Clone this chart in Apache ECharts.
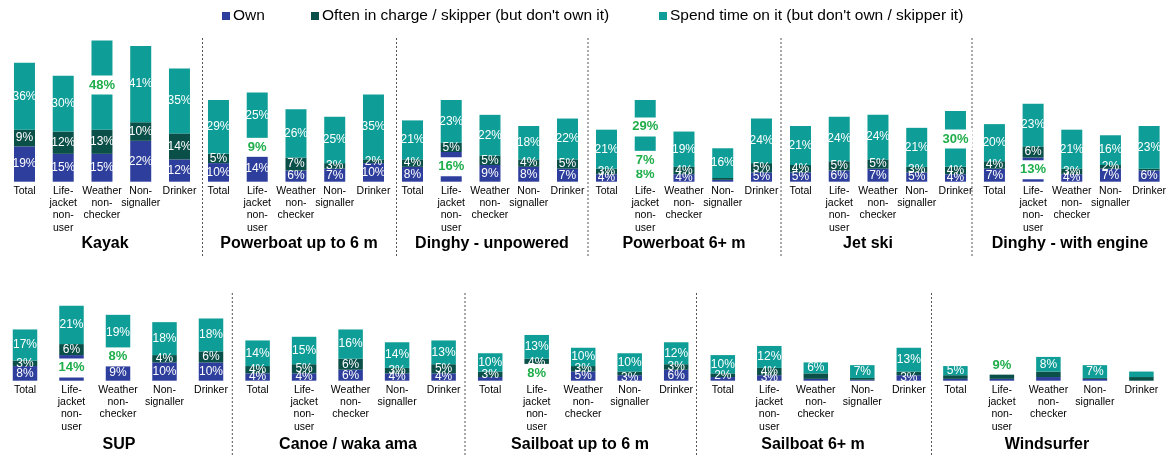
<!DOCTYPE html>
<html>
<head>
<meta charset="utf-8">
<script src="https://cdn.jsdelivr.net/npm/echarts@6/dist/echarts.min.js"></script>
<style>
  html, body { margin: 0; padding: 0; background: #fff; }
  #chart { width: 1169px; height: 457px; }
</style>
</head>
<body>
<div id="chart"></div>
<script>
const groups = ['Total', 'Life-\njacket\nnon-\nuser', 'Weather\nnon-\nchecker', 'Non-\nsignaller', 'Drinker'];
const vehicles = ['Kayak', 'Powerboat up to 6 m', 'Dinghy - unpowered', 'Powerboat 6+ m', 'Jet ski',
  'Dinghy - with engine', 'SUP', 'Canoe / waka ama', 'Sailboat up to 6 m', 'Sailboat 6+ m', 'Windsurfer'];
const seriesNames = ['Own', 'Often in charge / skipper (but don\'t own it)', 'Spend time on it (but don\'t own / skipper it)'];

// one row per vehicle, one value per group (%)
const own = [
  [19, 15, 15, 22, 12],
  [10, 14, 6, 7, 10],
  [8, 16, 9, 8, 7],
  [4, 8, 4, 1, 5],
  [5, 6, 7, 5, 4],
  [7, 13, 4, 7, 6],
  [8, 14, 9, 10, 10],
  [4, 4, 6, 4, 4],
  [2, 8, 5, 3, 6],
  [2, 3, 1, 0.5, 3],
  [1, 1, 2, 1, 0]
];
const often = [
  [9, 12, 13, 10, 14],
  [5, 9, 7, 3, 2],
  [4, 5, 5, 4, 5],
  [3, 7, 4, 1, 5],
  [4, 5, 5, 3, 4],
  [4, 6, 3, 2, 1],
  [3, 6, 8, 4, 6],
  [4, 5, 6, 3, 5],
  [3, 4, 3, 2, 3],
  [2, 4, 3, 1, 2],
  [2, 3, 3, 0.5, 2]
];
const spend = [
  [36, 30, 48, 41, 35],
  [29, 25, 26, 25, 35],
  [21, 23, 22, 18, 22],
  [21, 29, 19, 16, 24],
  [21, 24, 24, 21, 30],
  [20, 23, 21, 16, 23],
  [17, 21, 19, 18, 18],
  [14, 15, 16, 14, 13],
  [10, 13, 10, 10, 12],
  [10, 12, 6, 7, 13],
  [5, 9, 8, 7, 3]
];

// [vehicle, series (0 own, 1 often, 2 spend), group]
const highlighted = [[0, 2, 2], [1, 1, 1], [2, 0, 1], [3, 0, 1], [3, 1, 1], [3, 2, 1], [4, 2, 4],
  [5, 0, 1], [6, 0, 1], [6, 1, 2], [8, 0, 1], [10, 2, 1]];
const unlabelled = [[3, 0, 3], [3, 1, 3], [5, 1, 4], [8, 0, 0], [8, 1, 3], [9, 0, 0], [9, 0, 2], [9, 1, 2],
  [9, 0, 3], [9, 1, 3], [9, 1, 4], [10, 0, 0], [10, 1, 0], [10, 0, 1], [10, 1, 1], [10, 0, 2], [10, 1, 2],
  [10, 0, 3], [10, 1, 3], [10, 0, 4], [10, 1, 4], [10, 2, 4]];

const colors = ['#2e3e9c', '#0a4f48', '#0f9e97'];
const green = '#1fae4b';
const font = '"Liberation Sans", Arial, sans-serif';

// panel layout: top row of 6, bottom row of 5
const titleX = [105, 299, 492, 684, 868, 1070, 119, 348, 580, 813, 1047];
const panels = vehicles.map((v, i) => {
  if (i < 6) {
    const mid = 102 + 194 * i;
    return { left: mid - 96.9, width: 193.75, top: 33.1, height: 148.6, bar: 21, titleY: 243.5 };
  }
  const mid = 118 + 232.6 * (i - 6);
  return { left: mid - 116.25, width: 232.5, top: 234.3, height: 146.4, bar: 24.5, titleY: 445 };
});

const has = (list, v, s, g) => list.some(d => d[0] === v && d[1] === s && d[2] === g);

const grid = [], xAxis = [], yAxis = [], series = [], graphic = [];
panels.forEach((p, i) => {
  grid.push({ left: p.left, top: p.top, width: p.width, height: p.height });
  xAxis.push({
    type: 'category', gridIndex: i, data: groups,
    axisLine: { show: false }, axisTick: { show: false },
    axisLabel: { interval: 0, margin: 3, fontSize: 10.5, lineHeight: 12.3, color: '#000', fontFamily: font }
  });
  yAxis.push({ type: 'value', gridIndex: i, min: 0, max: 80, show: false, splitLine: { show: false } });
  [own, often, spend].forEach((arr, s) => {
    series.push({
      name: seriesNames[s], type: 'bar', stack: 'v' + i,
      xAxisIndex: i, yAxisIndex: i, barWidth: p.bar,
      itemStyle: { color: colors[s] },
      label: { show: true, position: 'inside', formatter: '{c}%', color: '#fff', fontSize: 12, fontFamily: font },
      data: arr[i].map((val, g) => {
        if (has(unlabelled, i, s, g)) return { value: val, label: { show: false } };
        if (has(highlighted, i, s, g)) return {
          value: val,
          label: { color: green, fontWeight: 'bold', fontSize: 13, backgroundColor: '#fff', padding: [3, 4] }
        };
        return val;
      })
    });
  });
  graphic.push({
    type: 'text', x: titleX[i], y: p.titleY,
    style: { text: vehicles[i], font: 'bold 16px ' + font, fill: '#000', textAlign: 'center', textVerticalAlign: 'middle' }
  });
});

// dashed separators between panels
[202.5, 396.5, 588, 781, 972].forEach(x => graphic.push({
  type: 'line', shape: { x1: x, y1: 38, x2: x, y2: 258 },
  style: { stroke: '#555', lineWidth: 1, lineDash: [2, 2] }
}));
[232.3, 465, 696.5, 931.5].forEach(x => graphic.push({
  type: 'line', shape: { x1: x, y1: 293, x2: x, y2: 457 },
  style: { stroke: '#555', lineWidth: 1, lineDash: [2, 2] }
}));

const legendLeft = [222, 311, 659];
const legend = seriesNames.map((n, s) => ({
  data: [n], left: legendLeft[s], top: 8, padding: 0, icon: 'rect', itemWidth: 8, itemHeight: 8, itemGap: 0,
  textStyle: { fontSize: 15.5, color: '#000', fontFamily: font, padding: [0, 0, 0, -2] }
}));

const chart = echarts.init(document.getElementById('chart'));
chart.setOption({
  animation: false,
  color: colors,
  legend: legend,
  grid: grid,
  xAxis: xAxis,
  yAxis: yAxis,
  series: series,
  graphic: graphic
});
</script>
</body>
</html>
